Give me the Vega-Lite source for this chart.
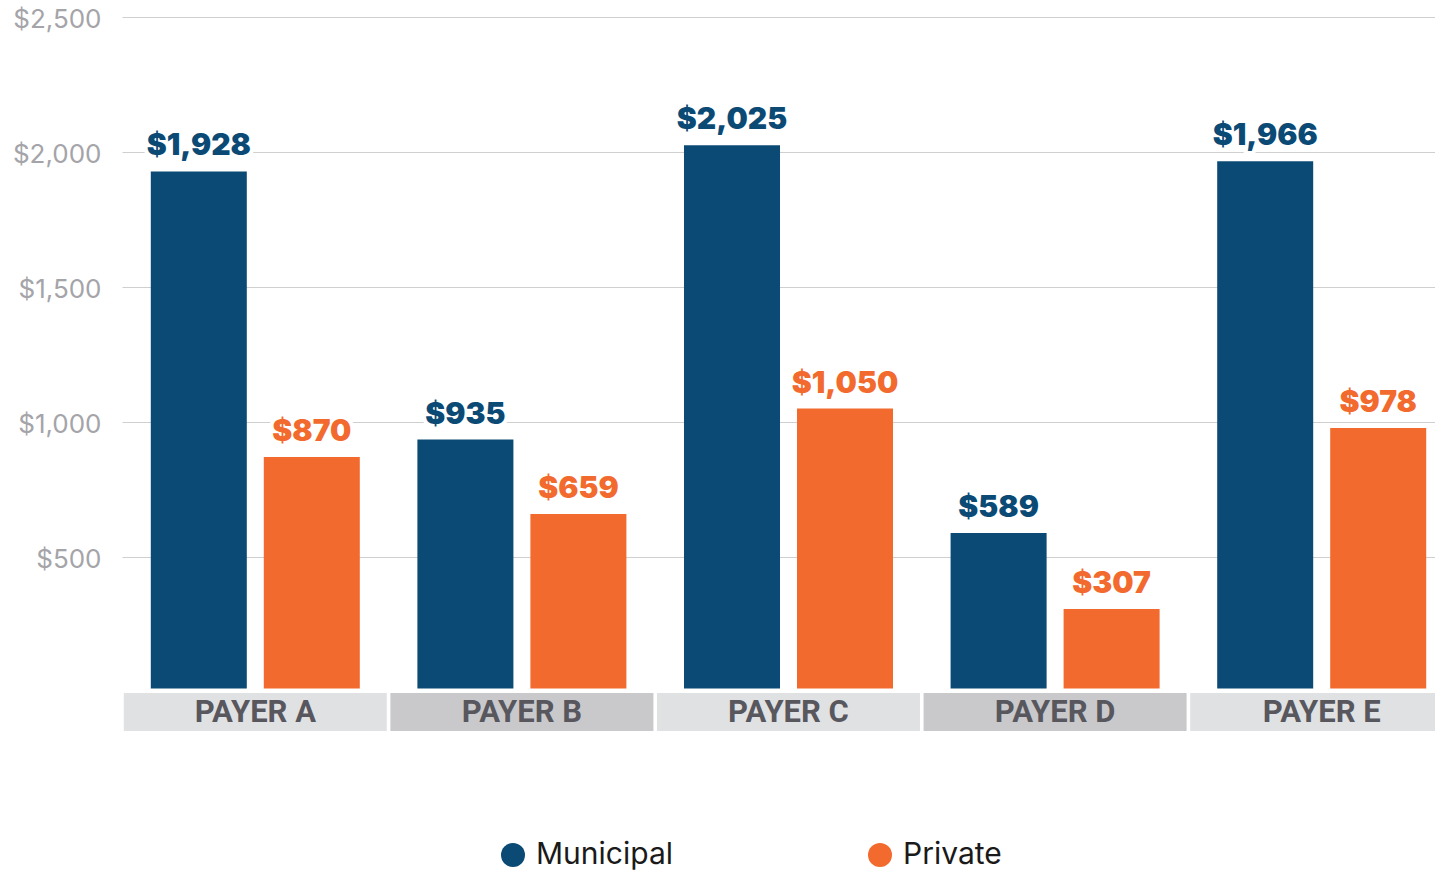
{
  "$schema": "https://vega.github.io/schema/vega-lite/v6.json",
  "width": 1313,
  "height": 675,
  "autosize": {"type": "none"},
  "padding": {"left": 122, "top": 17, "right": 0, "bottom": 179},
  "background": "white",
  "config": {"view": {"stroke": null}, "font": "Inter"},
  "datasets": {
    "bars": [
      {"payer": "PAYER A", "type": "Municipal", "value": 1928},
      {"payer": "PAYER A", "type": "Private", "value": 870},
      {"payer": "PAYER B", "type": "Municipal", "value": 935},
      {"payer": "PAYER B", "type": "Private", "value": 659},
      {"payer": "PAYER C", "type": "Municipal", "value": 2025},
      {"payer": "PAYER C", "type": "Private", "value": 1050},
      {"payer": "PAYER D", "type": "Municipal", "value": 589},
      {"payer": "PAYER D", "type": "Private", "value": 307},
      {"payer": "PAYER E", "type": "Municipal", "value": 1966},
      {"payer": "PAYER E", "type": "Private", "value": 978}
    ],
    "payers": [
      {"payer": "PAYER A", "shade": "light"},
      {"payer": "PAYER B", "shade": "dark"},
      {"payer": "PAYER C", "shade": "light"},
      {"payer": "PAYER D", "shade": "dark"},
      {"payer": "PAYER E", "shade": "light"}
    ]
  },
  "layer": [
    {
      "data": {"name": "bars"},
      "mark": {"type": "bar"},
      "encoding": {
        "x": {"field": "payer", "type": "nominal", "scale": {"range": [0, 1333], "paddingInner": 0.0135, "paddingOuter": 0.00675}, "axis": null},
        "xOffset": {"field": "type", "type": "nominal", "scale": {"paddingInner": 0.1504, "paddingOuter": 0.2389}},
        "y": {"field": "value", "type": "quantitative", "scale": {"domain": [0, 2500], "nice": false, "zero": false},
          "axis": {"values": [500, 1000, 1500, 2000, 2500], "format": "$,.0f", "title": null, "grid": true, "domain": false, "ticks": false, "tickSize": 0, "labelPadding": 21, "labelOffset": 2, "labelFont": "Inter", "labelFontSize": 26, "labelColor": "#a4a4a9", "gridColor": "#cfcfcf", "gridWidth": 1}},
        "y2": {"datum": 13},
        "color": {"field": "type", "type": "nominal", "scale": {"domain": ["Municipal", "Private"], "range": ["#0b4a74", "#f26a2d"]},
          "legend": {"orient": "none", "legendX": 376, "legendY": 823, "direction": "horizontal", "title": null, "symbolType": "circle", "symbolSize": 576, "symbolStrokeWidth": 0, "labelFont": "Inter", "labelFontSize": 30, "labelColor": "#1a1a1a", "labelOffset": 8, "labelLimit": 400, "columnPadding": 191, "padding": 0}}
      }
    },
    {
      "data": {"name": "payers"},
      "mark": {"type": "rect"},
      "encoding": {
        "x": {"field": "payer", "type": "nominal"},
        "y": {"datum": -4, "type": "quantitative", "scale": {"domain": [0, 2500], "nice": false, "zero": false}},
        "y2": {"datum": -144},
        "fill": {"field": "shade", "type": "nominal", "scale": {"domain": ["light", "dark"], "range": ["#e0e1e3", "#c9c9cc"]}, "legend": null}
      }
    },
    {
      "data": {"name": "payers"},
      "mark": {"type": "text", "font": "Roboto", "fontWeight": "bold", "fontSize": 31, "color": "#58575e", "baseline": "middle", "align": "center"},
      "encoding": {
        "x": {"field": "payer", "type": "nominal"},
        "y": {"datum": -76, "type": "quantitative", "scale": {"domain": [0, 2500], "nice": false, "zero": false}},
        "text": {"field": "payer"}
      }
    },
    {
      "data": {"name": "bars"},
      "mark": {"type": "text", "font": "Inter", "fontWeight": 900, "fontSize": 30, "baseline": "alphabetic", "align": "center", "dy": -16, "color": "white", "stroke": "white", "strokeWidth": 8},
      "encoding": {
        "x": {"field": "payer", "type": "nominal"},
        "xOffset": {"field": "type", "type": "nominal"},
        "y": {"field": "value", "type": "quantitative"},
        "text": {"field": "value", "type": "quantitative", "format": "$,.0f"}
      }
    },
    {
      "data": {"name": "bars"},
      "mark": {"type": "text", "font": "Inter", "fontWeight": 900, "fontSize": 30, "baseline": "alphabetic", "align": "center", "dy": -16},
      "encoding": {
        "x": {"field": "payer", "type": "nominal"},
        "xOffset": {"field": "type", "type": "nominal"},
        "y": {"field": "value", "type": "quantitative"},
        "text": {"field": "value", "type": "quantitative", "format": "$,.0f"},
        "color": {"field": "type", "type": "nominal"}
      }
    }
  ]
}
